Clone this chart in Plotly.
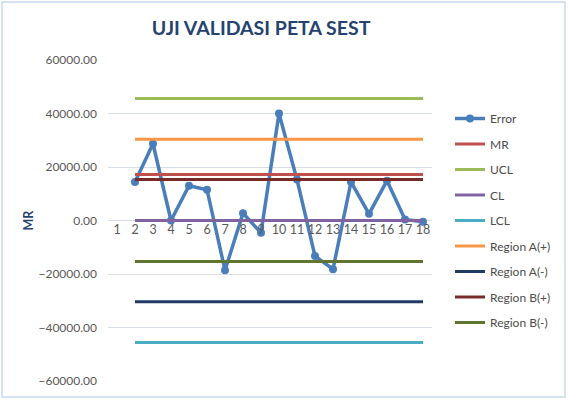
import plotly.graph_objects as go

categories = list(range(1, 19))
error_vals = [None, 14400, 28700, 0, 13000, 11500, -18600, 2700, -4600, 40000,
              15300, -13300, -18200, 14400, 2500, 14900, 370, -500]
mr_val = 17200
ucl_val = 45600
cl_val = 0
lcl_val = -45600
a_plus = 30400
a_minus = -30400
b_plus = 15300
b_minus = -15300

y_ticks = [-60000, -40000, -20000, 0, 20000, 40000, 60000]

def const(v):
    return [None] + [v] * 17

series = [
    ("MR", mr_val, "#C0504D"),
    ("UCL", ucl_val, "#9BBB59"),
    ("CL", cl_val, "#8064A2"),
    ("LCL", lcl_val, "#4BACC6"),
    ("Region A(+)", a_plus, "#F79646"),
    ("Region A(-)", a_minus, "#1F3B63"),
    ("Region B(+)", b_plus, "#772C2A"),
    ("Region B(-)", b_minus, "#5F7530"),
]

fig = go.Figure()
fig.add_trace(go.Scatter(
    x=categories, y=error_vals, name="Error", mode="lines+markers",
    line=dict(color="#4A7EBB", width=3.5),
    marker=dict(size=8, color="#4A7EBB"),
    legendgroup="g0", connectgaps=False,
))
for i, (name, val, col) in enumerate(series):
    fig.add_trace(go.Scatter(
        x=categories, y=const(val), name=name, mode="lines",
        line=dict(color=col, width=3), legendgroup=f"g{i+1}",
    ))

W, H = 568, 404
L, R, T, B = 108, 432, 60, 381
pw, ph = R - L, B - T

fig.update_layout(
    width=W, height=H,
    margin=dict(l=L, r=W - R, t=T, b=H - B),
    paper_bgcolor="white", plot_bgcolor="white",
    title=dict(text="<b>UJI VALIDASI PETA SEST</b>", x=261 / W, xref="container",
               xanchor="center", y=1 - 28 / H, yref="container", yanchor="middle",
               font=dict(family="Lato", size=19.5, color="#25436F")),
    font=dict(family="Lato", size=12, color="#595959"),
    showlegend=True,
    legend=dict(x=(450 - L) / pw, xanchor="left", y=(B - 104) / ph, yanchor="top",
                tracegroupgap=6.5, font=dict(family="Lato", size=12, color="#4D4D4D"),
                bgcolor="rgba(0,0,0,0)"),
    xaxis=dict(range=[0.5, 18.5], tickmode="array", tickvals=categories,
               ticktext=[str(c) for c in categories], showgrid=False,
               zeroline=False, showline=False, ticks="",
               anchor="free", position=0.5,
               tickfont=dict(family="Lato", size=12.5, color="#595959")),
    yaxis=dict(range=[-60000, 60000], tickmode="array", tickvals=y_ticks,
               tickformat=".2f", showgrid=True, gridcolor="#D9DEE6", gridwidth=1,
               zeroline=False, showline=False, ticks="", ticklabelstandoff=10,
               tickfont=dict(family="Lato", size=12, color="#595959"),
               title=dict(text="<b>MR</b>", standoff=2,
                          font=dict(family="Lato", size=12.5, color="#25436F"))),
    shapes=[dict(type="rect", xref="paper", yref="paper",
                 x0=(2 - L) / pw, x1=(565 - L) / pw,
                 y0=(B - 397) / ph, y1=(B - 2) / ph,
                 line=dict(color="#C6D9F1", width=1.5), layer="below")],
)

fig.write_html("out.html")
